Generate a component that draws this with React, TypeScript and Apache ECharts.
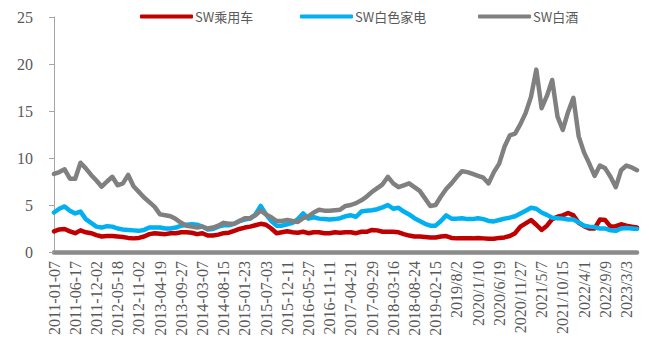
import { useEffect, useRef } from 'react';
import * as echarts from 'echarts';

// Date labels shown under the x axis, one every 4 weekly samples
const tickLabels = [
  '2011-01-07', '2011-06-17', '2011-12-02', '2012-05-18', '2012-11-02', '2013-04-19',
  '2013-09-27', '2014-03-07', '2014-08-15', '2015-01-23', '2015-07-03', '2015-12-11',
  '2016-05-27', '2016-11-11', '2017-04-21', '2017-09-29', '2018-03-16', '2018-08-24',
  '2019-02-15', '2019/8/2', '2020/1/10', '2020/6/19', '2020/11/27', '2021/5/7',
  '2021/10/15', '2022/4/1', '2022/9/9', '2023/3/3',
];
const samplesPerLabel = 4;

const seriesNames = ['SW乘用车', 'SW白色家电', 'SW白酒'];

// SW乘用车
const passengerCar = [
  2.2, 2.4, 2.45, 2.2, 2.0, 2.3, 2.1, 2.0, 1.8, 1.65,
  1.7, 1.7, 1.65, 1.6, 1.5, 1.45, 1.5, 1.65, 1.9, 2.0,
  1.95, 1.9, 2.0, 2.0, 2.1, 2.1, 2.05, 1.9, 2.0, 1.75,
  1.75, 1.85, 2.0, 2.05, 2.25, 2.45, 2.6, 2.7, 2.85, 3.0,
  2.9, 2.5, 2.0, 2.1, 2.2, 2.1, 2.05, 2.15, 2.0, 2.1,
  2.1, 2.0, 2.0, 2.1, 2.05, 2.1, 2.1, 2.0, 2.15, 2.15,
  2.35, 2.3, 2.15, 2.15, 2.15, 2.1, 1.9, 1.75, 1.65, 1.65,
  1.6, 1.55, 1.55, 1.65, 1.7, 1.5, 1.45, 1.45, 1.45, 1.45,
  1.5, 1.45, 1.4, 1.4, 1.5, 1.55, 1.7, 2.0, 2.7, 3.05,
  3.4, 2.9, 2.35, 2.8, 3.5, 3.75, 3.9, 4.15, 3.9, 3.1,
  2.75, 2.5, 2.5, 3.45, 3.4, 2.7, 2.75, 2.95, 2.8, 2.7, 2.6,
];

// SW白色家电
const homeAppliance = [
  4.2, 4.6, 4.85, 4.4, 4.1, 4.3, 3.5, 3.1, 2.7, 2.6,
  2.75, 2.7, 2.5, 2.4, 2.35, 2.3, 2.25, 2.35, 2.6, 2.6,
  2.6, 2.5, 2.5, 2.6, 2.8, 2.9, 2.95, 2.9, 2.7, 2.4,
  2.45, 2.7, 2.85, 2.85, 3.0, 3.3, 3.45, 3.55, 4.0, 4.9,
  4.0, 3.3, 2.8, 2.8, 2.95, 3.1, 3.5, 4.1, 3.55, 3.7,
  3.55, 3.5, 3.45, 3.5, 3.6, 3.8, 3.9, 3.75, 4.3, 4.4,
  4.45, 4.55, 4.75, 5.0, 4.6, 4.7, 4.3, 4.0, 3.6, 3.3,
  3.0, 2.8, 2.8, 3.3, 3.9, 3.55, 3.55, 3.6, 3.5, 3.5,
  3.6, 3.5, 3.3, 3.25, 3.4, 3.55, 3.65, 3.8, 4.1, 4.4,
  4.7, 4.6, 4.2, 3.95, 3.65, 3.6, 3.55, 3.45, 3.45, 3.15,
  2.8, 2.7, 2.65, 2.5, 2.5, 2.3, 2.25, 2.5, 2.55, 2.5, 2.45,
];

// SW白酒
const liquor = [
  8.3, 8.5, 8.8, 7.8, 7.8, 9.5, 8.9, 8.2, 7.6, 6.95,
  7.5, 8.0, 7.1, 7.3, 8.2, 7.0, 6.4, 5.8, 5.3, 4.8,
  4.0, 3.9, 3.8, 3.5, 3.1, 2.8, 2.7, 2.6, 2.7, 2.5,
  2.6, 2.8, 3.1, 3.0, 3.0, 3.3, 3.6, 3.6, 3.9, 4.4,
  4.0, 3.7, 3.3, 3.3, 3.4, 3.3, 3.2, 3.6, 3.8, 4.2,
  4.5, 4.4, 4.4, 4.45, 4.5, 4.9, 5.0, 5.2, 5.5, 5.9,
  6.4, 6.8, 7.2, 8.0, 7.3, 6.9, 7.1, 7.3, 6.9, 6.5,
  5.7, 4.9, 5.0, 5.9, 6.7, 7.3, 8.0, 8.6, 8.5, 8.3,
  8.1, 7.9, 7.3, 8.5, 9.4, 11.2, 12.4, 12.6, 13.6, 14.8,
  16.5, 19.4, 15.3, 16.6, 18.3, 14.4, 13.0, 14.9, 16.4, 12.3,
  10.6, 9.4, 8.1, 9.2, 8.9, 8.0, 6.9, 8.7, 9.2, 9.0, 8.7,
];

const seriesColors = ['#C00000', '#00B0F0', '#808080'];
const legendLefts = [135, 295, 473];

const labelFont = 'Liberation Serif, Times New Roman, serif';
const cjkFont = 'Noto Sans CJK SC, sans-serif';

export default function App() {
  const ref = useRef<HTMLDivElement>(null);

  useEffect(() => {
    if (!ref.current) return;
    const chart = echarts.init(ref.current, undefined, { renderer: 'svg' });
    const allSeries = [passengerCar, homeAppliance, liquor];
    const lastIndex = liquor.length - 1;

    chart.setOption({
      animation: false,
      backgroundColor: '#ffffff',
      grid: { left: 54, right: 12, top: 17, bottom: 95, containLabel: false },
      legend: seriesNames.map((name, k) => ({
        data: [name],
        left: legendLefts[k],
        top: 5,
        icon: 'roundRect',
        itemWidth: 53,
        itemHeight: 4,
        itemGap: 0,
        textStyle: { fontFamily: cjkFont, fontSize: 13, color: '#595959', padding: [0, 0, 0, -3] },
      })),
      xAxis: {
        type: 'value',
        min: 0,
        max: lastIndex,
        interval: samplesPerLabel,
        splitLine: { show: false },
        axisTick: { show: false },
        axisLine: { show: true, onZero: false, lineStyle: { color: '#8a8a8a', width: 4.5 } },
        axisLabel: {
          rotate: 90,
          margin: 9,
          showMaxLabel: false,
          fontFamily: labelFont,
          fontSize: 16,
          color: '#595959',
          formatter: (v: number) =>
            v % samplesPerLabel === 0 ? tickLabels[v / samplesPerLabel] ?? '' : '',
        },
      },
      yAxis: {
        type: 'value',
        min: 0,
        max: 25,
        interval: 5,
        splitLine: { show: false },
        axisLine: { show: true, lineStyle: { color: '#a6a6a6', width: 1 } },
        axisTick: { show: true, inside: false, length: 5, lineStyle: { color: '#a6a6a6' } },
        axisLabel: { margin: 21, fontFamily: labelFont, fontSize: 16, color: '#595959' },
      },
      series: allSeries.map((values, k) => ({
        name: seriesNames[k],
        type: 'line',
        data: values.map((v, i) => [i, v]),
        showSymbol: false,
        symbol: 'none',
        color: seriesColors[k],
        lineStyle: { color: seriesColors[k], width: 4.5, join: 'round', cap: 'round' },
        z: 2 + k,
      })),
    });

    return () => chart.dispose();
  }, []);

  return (
    <div
      ref={ref}
      style={{ position: 'absolute', left: 0, top: 0, width: 649, height: 347 }}
    />
  );
}
